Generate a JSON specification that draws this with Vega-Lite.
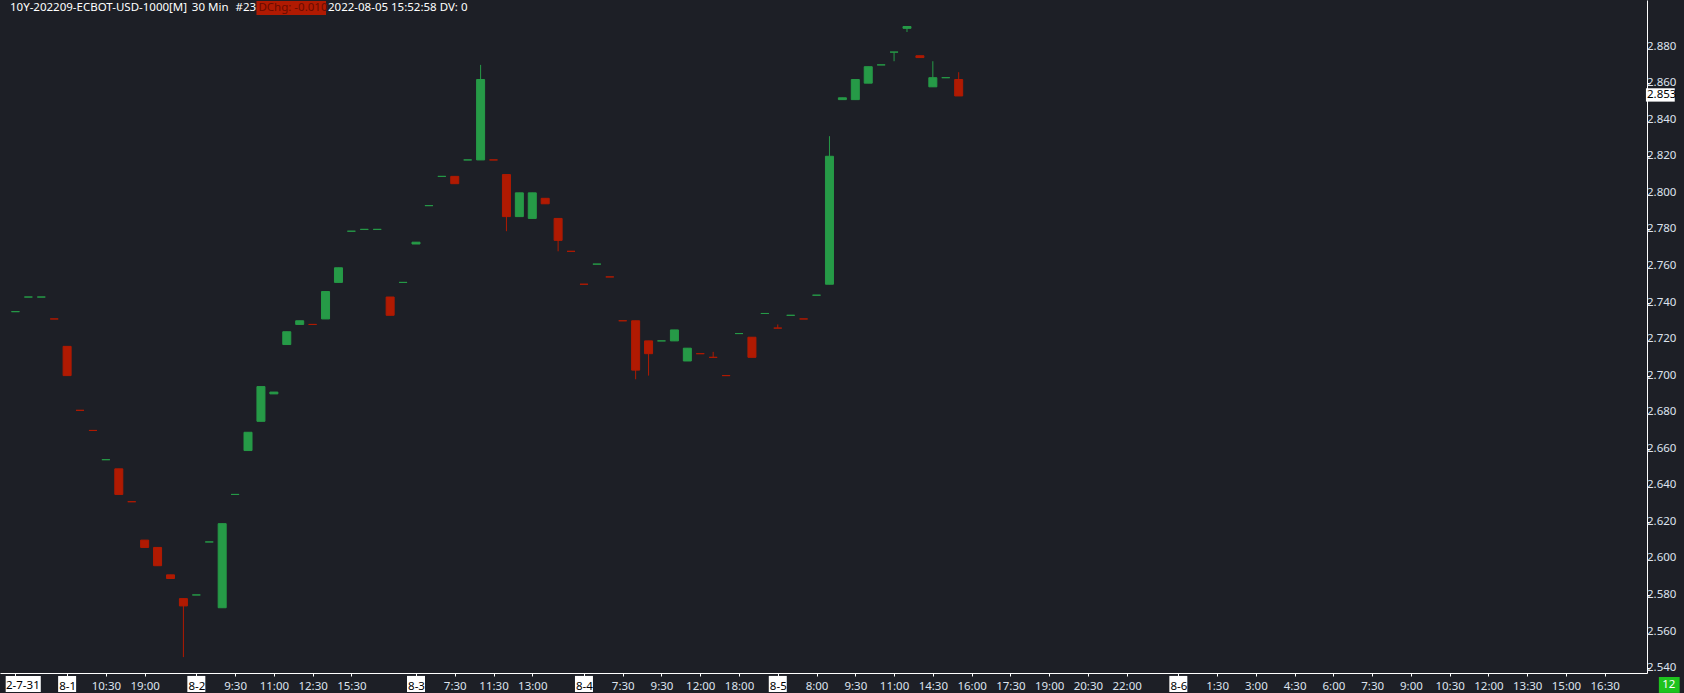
{
  "$schema": "https://vega.github.io/schema/vega-lite/v6.json",
  "autosize": {"type": "none"},
  "padding": {"left": 0, "top": 0, "right": 37, "bottom": 20},
  "width": 1647,
  "height": 673,
  "background": "#1D1F26",
  "config": {
    "view": {"stroke": null},
    "font": "Noto Sans",
    "axis": {"labelFont": "Noto Sans", "labelFontSize": 11.5, "grid": false, "labelOverlap": false}
  },
  "datasets": {
    "bars": [
      {"i": 0, "open": 2.735, "high": 2.735, "low": 2.735, "close": 2.735, "dir": "up"},
      {"i": 1, "open": 2.743, "high": 2.743, "low": 2.743, "close": 2.743, "dir": "up"},
      {"i": 2, "open": 2.743, "high": 2.743, "low": 2.743, "close": 2.743, "dir": "up"},
      {"i": 3, "open": 2.731, "high": 2.731, "low": 2.731, "close": 2.731, "dir": "down"},
      {"i": 4, "open": 2.716, "high": 2.716, "low": 2.700, "close": 2.700, "dir": "down"},
      {"i": 5, "open": 2.681, "high": 2.681, "low": 2.681, "close": 2.681, "dir": "down"},
      {"i": 6, "open": 2.670, "high": 2.670, "low": 2.670, "close": 2.670, "dir": "down"},
      {"i": 7, "open": 2.654, "high": 2.654, "low": 2.654, "close": 2.654, "dir": "up"},
      {"i": 8, "open": 2.649, "high": 2.649, "low": 2.635, "close": 2.635, "dir": "down"},
      {"i": 9, "open": 2.631, "high": 2.631, "low": 2.631, "close": 2.631, "dir": "down"},
      {"i": 10, "open": 2.610, "high": 2.610, "low": 2.606, "close": 2.606, "dir": "down"},
      {"i": 11, "open": 2.606, "high": 2.606, "low": 2.596, "close": 2.596, "dir": "down"},
      {"i": 12, "open": 2.591, "high": 2.591, "low": 2.589, "close": 2.589, "dir": "down"},
      {"i": 13, "open": 2.578, "high": 2.578, "low": 2.546, "close": 2.574, "dir": "down"},
      {"i": 14, "open": 2.580, "high": 2.580, "low": 2.580, "close": 2.580, "dir": "up"},
      {"i": 15, "open": 2.609, "high": 2.609, "low": 2.609, "close": 2.609, "dir": "up"},
      {"i": 16, "open": 2.573, "high": 2.619, "low": 2.573, "close": 2.619, "dir": "up"},
      {"i": 17, "open": 2.635, "high": 2.635, "low": 2.635, "close": 2.635, "dir": "up"},
      {"i": 18, "open": 2.659, "high": 2.669, "low": 2.659, "close": 2.669, "dir": "up"},
      {"i": 19, "open": 2.675, "high": 2.694, "low": 2.675, "close": 2.694, "dir": "up"},
      {"i": 20, "open": 2.690, "high": 2.691, "low": 2.690, "close": 2.691, "dir": "up"},
      {"i": 21, "open": 2.717, "high": 2.724, "low": 2.717, "close": 2.724, "dir": "up"},
      {"i": 22, "open": 2.728, "high": 2.730, "low": 2.728, "close": 2.730, "dir": "up"},
      {"i": 23, "open": 2.728, "high": 2.728, "low": 2.728, "close": 2.728, "dir": "down"},
      {"i": 24, "open": 2.731, "high": 2.746, "low": 2.731, "close": 2.746, "dir": "up"},
      {"i": 25, "open": 2.751, "high": 2.759, "low": 2.751, "close": 2.759, "dir": "up"},
      {"i": 26, "open": 2.779, "high": 2.779, "low": 2.779, "close": 2.779, "dir": "up"},
      {"i": 27, "open": 2.780, "high": 2.780, "low": 2.780, "close": 2.780, "dir": "up"},
      {"i": 28, "open": 2.780, "high": 2.780, "low": 2.780, "close": 2.780, "dir": "up"},
      {"i": 29, "open": 2.743, "high": 2.743, "low": 2.733, "close": 2.733, "dir": "down"},
      {"i": 30, "open": 2.751, "high": 2.751, "low": 2.751, "close": 2.751, "dir": "up"},
      {"i": 31, "open": 2.772, "high": 2.773, "low": 2.772, "close": 2.773, "dir": "up"},
      {"i": 32, "open": 2.793, "high": 2.793, "low": 2.793, "close": 2.793, "dir": "up"},
      {"i": 33, "open": 2.809, "high": 2.809, "low": 2.809, "close": 2.809, "dir": "up"},
      {"i": 34, "open": 2.809, "high": 2.809, "low": 2.805, "close": 2.805, "dir": "down"},
      {"i": 35, "open": 2.818, "high": 2.818, "low": 2.818, "close": 2.818, "dir": "up"},
      {"i": 36, "open": 2.818, "high": 2.870, "low": 2.818, "close": 2.862, "dir": "up"},
      {"i": 37, "open": 2.818, "high": 2.818, "low": 2.818, "close": 2.818, "dir": "down"},
      {"i": 38, "open": 2.810, "high": 2.810, "low": 2.779, "close": 2.787, "dir": "down"},
      {"i": 39, "open": 2.787, "high": 2.800, "low": 2.787, "close": 2.800, "dir": "up"},
      {"i": 40, "open": 2.786, "high": 2.800, "low": 2.786, "close": 2.800, "dir": "up"},
      {"i": 41, "open": 2.797, "high": 2.797, "low": 2.794, "close": 2.794, "dir": "down"},
      {"i": 42, "open": 2.786, "high": 2.786, "low": 2.768, "close": 2.774, "dir": "down"},
      {"i": 43, "open": 2.768, "high": 2.768, "low": 2.768, "close": 2.768, "dir": "down"},
      {"i": 44, "open": 2.750, "high": 2.750, "low": 2.750, "close": 2.750, "dir": "down"},
      {"i": 45, "open": 2.761, "high": 2.761, "low": 2.761, "close": 2.761, "dir": "up"},
      {"i": 46, "open": 2.754, "high": 2.754, "low": 2.754, "close": 2.754, "dir": "down"},
      {"i": 47, "open": 2.730, "high": 2.730, "low": 2.730, "close": 2.730, "dir": "down"},
      {"i": 48, "open": 2.730, "high": 2.730, "low": 2.698, "close": 2.703, "dir": "down"},
      {"i": 49, "open": 2.719, "high": 2.719, "low": 2.700, "close": 2.712, "dir": "down"},
      {"i": 50, "open": 2.719, "high": 2.719, "low": 2.719, "close": 2.719, "dir": "up"},
      {"i": 51, "open": 2.719, "high": 2.725, "low": 2.719, "close": 2.725, "dir": "up"},
      {"i": 52, "open": 2.708, "high": 2.715, "low": 2.708, "close": 2.715, "dir": "up"},
      {"i": 53, "open": 2.712, "high": 2.712, "low": 2.712, "close": 2.712, "dir": "down"},
      {"i": 54, "open": 2.710, "high": 2.713, "low": 2.710, "close": 2.710, "dir": "down"},
      {"i": 55, "open": 2.700, "high": 2.700, "low": 2.700, "close": 2.700, "dir": "down"},
      {"i": 56, "open": 2.723, "high": 2.723, "low": 2.723, "close": 2.723, "dir": "up"},
      {"i": 57, "open": 2.721, "high": 2.721, "low": 2.710, "close": 2.710, "dir": "down"},
      {"i": 58, "open": 2.734, "high": 2.734, "low": 2.734, "close": 2.734, "dir": "up"},
      {"i": 59, "open": 2.726, "high": 2.728, "low": 2.726, "close": 2.726, "dir": "down"},
      {"i": 60, "open": 2.733, "high": 2.733, "low": 2.733, "close": 2.733, "dir": "up"},
      {"i": 61, "open": 2.731, "high": 2.731, "low": 2.731, "close": 2.731, "dir": "down"},
      {"i": 62, "open": 2.744, "high": 2.744, "low": 2.744, "close": 2.744, "dir": "up"},
      {"i": 63, "open": 2.750, "high": 2.831, "low": 2.750, "close": 2.820, "dir": "up"},
      {"i": 64, "open": 2.851, "high": 2.852, "low": 2.851, "close": 2.852, "dir": "up"},
      {"i": 65, "open": 2.851, "high": 2.862, "low": 2.851, "close": 2.862, "dir": "up"},
      {"i": 66, "open": 2.860, "high": 2.869, "low": 2.860, "close": 2.869, "dir": "up"},
      {"i": 67, "open": 2.870, "high": 2.870, "low": 2.870, "close": 2.870, "dir": "up"},
      {"i": 68, "open": 2.877, "high": 2.877, "low": 2.872, "close": 2.877, "dir": "up"},
      {"i": 69, "open": 2.890, "high": 2.891, "low": 2.888, "close": 2.891, "dir": "up"},
      {"i": 70, "open": 2.875, "high": 2.875, "low": 2.874, "close": 2.874, "dir": "down"},
      {"i": 71, "open": 2.858, "high": 2.872, "low": 2.858, "close": 2.863, "dir": "up"},
      {"i": 72, "open": 2.863, "high": 2.863, "low": 2.863, "close": 2.863, "dir": "up"},
      {"i": 73, "open": 2.862, "high": 2.866, "low": 2.853, "close": 2.853, "dir": "down"}
    ],
    "dates": [{"i": 4}, {"i": 14}, {"i": 31}, {"i": 44}, {"i": 59}, {"i": 90}],
    "yticks": [{"v": 2.54}, {"v": 2.56}, {"v": 2.58}, {"v": 2.60}, {"v": 2.62}, {"v": 2.64}, {"v": 2.66}, {"v": 2.68}, {"v": 2.70}, {"v": 2.72}, {"v": 2.74}, {"v": 2.76}, {"v": 2.78}, {"v": 2.80}, {"v": 2.82}, {"v": 2.84}, {"v": 2.86}, {"v": 2.88}],
    "one": [{}]
  },
  "layer": [
    {
      "data": {"name": "bars"},
      "mark": {"type": "rule", "strokeWidth": 1},
      "encoding": {
        "x": {
          "field": "i", "type": "quantitative", "title": null,
          "scale": {"domain": [-0.808, 125.885], "nice": false, "zero": false},
          "axis": {
            "orient": "bottom",
            "values": [0, 4, 7, 10, 14, 17, 20, 23, 26, 31, 34, 37, 40, 44, 47, 50, 53, 56, 59, 62, 65, 68, 71, 74, 77, 80, 83, 86, 90, 93, 96, 99, 102, 105, 108, 111, 114, 117, 120, 123],
            "labelExpr": "({'0':'','4':'8-1','7':'10:30','10':'19:00','14':'8-2','17':'9:30','20':'11:00','23':'12:30','26':'15:30','31':'8-3','34':'7:30','37':'11:30','40':'13:00','44':'8-4','47':'7:30','50':'9:30','53':'12:00','56':'18:00','59':'8-5','62':'8:00','65':'9:30','68':'11:00','71':'14:30','74':'16:00','77':'17:30','80':'19:00','83':'20:30','86':'22:00','90':'8-6','93':'1:30','96':'3:00','99':'4:30','102':'6:00','105':'7:30','108':'9:00','111':'10:30','114':'12:00','117':'13:30','120':'15:00','123':'16:30'})[''+datum.value]",
            "labelColor": {"condition": {"test": "indexof([0,4,14,31,44,59,90], datum.value) >= 0", "value": "#000000"}, "value": "#DDE3EE"},
            "labelBaseline": "alphabetic",
            "labelPadding": 13.4,
            "labelOverlap": false,
            "tickSize": 3,
            "tickColor": "#FFFFFF",
            "domainColor": "#FFFFFF",
            "zindex": 1
          }
        },
        "y": {
          "field": "low", "type": "quantitative", "title": null,
          "scale": {"domain": [2.5373, 2.9055], "nice": false, "zero": false},
          "axis": {
            "orient": "right",
            "values": [2.54, 2.56, 2.58, 2.60, 2.62, 2.64, 2.66, 2.68, 2.70, 2.72, 2.74, 2.76, 2.78, 2.80, 2.82, 2.84, 2.86, 2.88],
            "labels": false,
            "tickSize": 3,
            "tickColor": "#FFFFFF",
            "domainColor": "#FFFFFF"
          }
        },
        "y2": {"field": "high"},
        "color": {"field": "dir", "type": "nominal", "legend": null, "scale": {"domain": ["up", "down"], "range": ["#269A47", "#B01A02"]}}
      }
    },
    {
      "data": {"name": "bars"},
      "mark": {"type": "bar", "width": 8, "strokeWidth": 1},
      "encoding": {
        "x": {"field": "i", "type": "quantitative", "title": null},
        "y": {"field": "open", "type": "quantitative", "title": null},
        "y2": {"field": "close"},
        "color": {"field": "dir", "type": "nominal", "legend": null},
        "stroke": {"field": "dir", "type": "nominal", "legend": null, "scale": {"domain": ["up", "down"], "range": ["#269A47", "#B01A02"]}}
      }
    },
    {
      "data": {"name": "yticks"},
      "mark": {"type": "text", "align": "left", "baseline": "middle", "fontSize": 11.5, "color": "#DDE3EE"},
      "encoding": {
        "x": {"datum": 126.27, "type": "quantitative"},
        "y": {"field": "v", "type": "quantitative", "title": null},
        "text": {"field": "v", "type": "quantitative", "format": ".3f"}
      }
    },
    {
      "data": {"name": "dates"},
      "mark": {"type": "bar", "width": 18, "color": "#FFFFFF"},
      "encoding": {
        "x": {"field": "i", "type": "quantitative", "title": null},
        "y": {"datum": 2.5357, "type": "quantitative"},
        "y2": {"datum": 2.5269}
      }
    },
    {
      "data": {"name": "one"},
      "mark": {"type": "bar", "color": "#FFFFFF"},
      "encoding": {
        "x": {"datum": -0.754, "type": "quantitative"},
        "x2": {"datum": 1.961},
        "y": {"datum": 2.5357, "type": "quantitative"},
        "y2": {"datum": 2.5269}
      }
    },
    {
      "data": {"name": "one"},
      "mark": {"type": "text", "align": "left", "baseline": "alphabetic", "fontSize": 11.5, "color": "#000000", "text": "2-7-31"},
      "encoding": {
        "x": {"datum": -0.731, "type": "quantitative"},
        "y": {"datum": 2.5284, "type": "quantitative"}
      }
    },
    {
      "data": {"name": "one"},
      "mark": {"type": "bar", "color": "#FFFFFF"},
      "encoding": {
        "x": {"datum": 126.19, "type": "quantitative"},
        "x2": {"datum": 128.42},
        "y": {"datum": 2.8572, "type": "quantitative"},
        "y2": {"datum": 2.8499}
      }
    },
    {
      "data": {"name": "one"},
      "mark": {"type": "text", "align": "left", "baseline": "middle", "fontSize": 11.5, "color": "#000000", "text": "2.853"},
      "encoding": {
        "x": {"datum": 126.27, "type": "quantitative"},
        "y": {"datum": 2.8535, "type": "quantitative"}
      }
    },
    {
      "data": {"name": "one"},
      "mark": {"type": "bar", "color": "#1EC31E"},
      "encoding": {
        "x": {"datum": 127.19, "type": "quantitative"},
        "x2": {"datum": 128.8},
        "y": {"datum": 2.5351, "type": "quantitative"},
        "y2": {"datum": 2.5264}
      }
    },
    {
      "data": {"name": "one"},
      "mark": {"type": "text", "align": "center", "baseline": "middle", "fontSize": 11.5, "color": "#FFFFFF", "text": "12"},
      "encoding": {
        "x": {"datum": 127.96, "type": "quantitative"},
        "y": {"datum": 2.5308, "type": "quantitative"}
      }
    },
    {
      "data": {"name": "one"},
      "mark": {"type": "bar", "color": "#B01A02"},
      "encoding": {
        "x": {"datum": 18.654, "type": "quantitative"},
        "x2": {"datum": 24.039},
        "y": {"datum": 2.9050, "type": "quantitative"},
        "y2": {"datum": 2.8973}
      }
    },
    {
      "data": {"name": "one"},
      "mark": {"type": "text", "align": "left", "baseline": "middle", "fontSize": 11.5, "color": "#FFFFFF", "text": "10Y-202209-ECBOT-USD-1000[M]"},
      "encoding": {"x": {"datum": -0.423, "type": "quantitative"}, "y": {"datum": 2.9011, "type": "quantitative"}}
    },
    {
      "data": {"name": "one"},
      "mark": {"type": "text", "align": "left", "baseline": "middle", "fontSize": 11.5, "color": "#FFFFFF", "text": "30 Min"},
      "encoding": {"x": {"datum": 13.654, "type": "quantitative"}, "y": {"datum": 2.9011, "type": "quantitative"}}
    },
    {
      "data": {"name": "one"},
      "mark": {"type": "text", "align": "left", "baseline": "middle", "fontSize": 11.5, "color": "#FFFFFF", "text": "#23"},
      "encoding": {"x": {"datum": 17.038, "type": "quantitative"}, "y": {"datum": 2.9011, "type": "quantitative"}}
    },
    {
      "data": {"name": "one"},
      "mark": {"type": "text", "align": "left", "baseline": "middle", "fontSize": 11.5, "color": "#6A0C00", "text": "DChg: -0.010"},
      "encoding": {"x": {"datum": 18.808, "type": "quantitative"}, "y": {"datum": 2.9011, "type": "quantitative"}}
    },
    {
      "data": {"name": "one"},
      "mark": {"type": "text", "align": "left", "baseline": "middle", "fontSize": 11.5, "color": "#FFFFFF", "text": "2022-08-05 15:52:58 DV: 0"},
      "encoding": {"x": {"datum": 24.192, "type": "quantitative"}, "y": {"datum": 2.9011, "type": "quantitative"}}
    }
  ]
}
